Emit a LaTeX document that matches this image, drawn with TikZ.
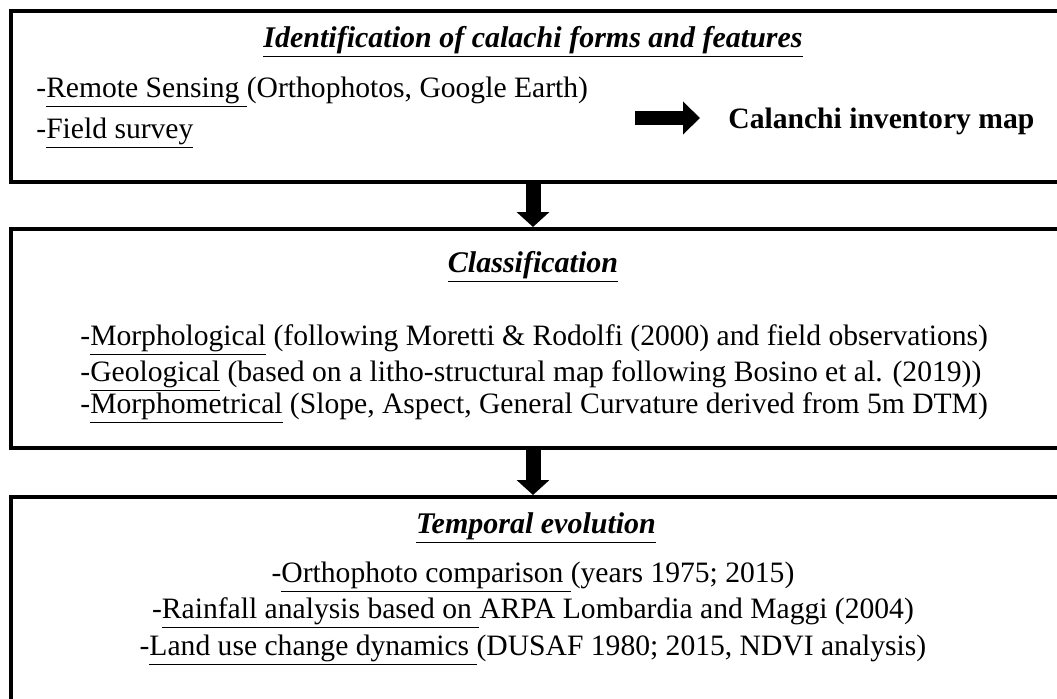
\documentclass[tikz,border=0pt]{standalone}
\usepackage{fontspec}
\setmainfont{Liberation Serif}
\usetikzlibrary{arrows.meta}

\tikzset{
  stagebox/.style={draw, line width=2pt, minimum width=527pt, inner sep=0pt},
  heading/.style={font=\fontsize{15}{18}\selectfont\bfseries\itshape, anchor=base, inner sep=0pt},
  bodytext/.style={font=\fontsize{14.8}{18}\selectfont, anchor=base, inner sep=0pt},
  fatarrow/.style={line width=7.5pt, -{Triangle[width=16pt,length=7.5pt]}},
}

\begin{document}
\begin{tikzpicture}[x=0.5pt, y=-0.5pt]
  \path[use as bounding box, clip] (0,0) rectangle (1057,698);

  % the three stages
  \node[stagebox, minimum height=85.5pt]  (stage1) at (538,96.5) {};
  \node[stagebox, minimum height=109.5pt] (stage2) at (538,338.5) {};
  \node[stagebox, minimum height=107pt]   (stage3) at (538,604) {};

  % stage 1
  \node[heading] (ttl1) at (533,47) {\underline{Identification of calachi forms and features}};
  \node[bodytext, anchor=base west] (rs) at (36,97) {-\underline{Remote Sensing\ }(Orthophotos, Google Earth)};
  \node[bodytext, anchor=base west] (fs) at (36,138) {-\underline{Field survey}};
  \node[bodytext, anchor=base west, font=\fontsize{14.8}{18}\selectfont\bfseries] (inv) at (728,128) {Calanchi inventory map};
  \coordinate (arrstart) at (635,118);
  \draw[line width=7pt, -{Triangle[width=16pt,length=8.5pt]}, shorten >=14pt] (arrstart) -- (arrstart -| inv.west);

  % stage 2
  \node[heading] (ttl2) at (533,272) {\underline{Classification}};
  \node[bodytext, anchor=base west] (morph) at (80,345) {-\underline{Morphological} (following Moretti \& Rodolfi (2000) and field observations)};
  \node[bodytext, anchor=base west] (geol) at (80,381) {-\underline{Geological} (based on a litho-structural map following Bosino et al. (2019))};
  \node[bodytext, anchor=base west] (mmet) at (80,413) {-\underline{Morphometrical} (Slope, Aspect, General Curvature derived from 5m DTM)};

  % stage 3
  \node[heading] (ttl3) at (536,533) {\underline{Temporal evolution}};
  \node[bodytext] (ortho) at (533,582) {-\underline{Orthophoto comparison\ }(years 1975; 2015)};
  \node[bodytext] (rain) at (533,618) {-\underline{Rainfall analysis based on\ }ARPA Lombardia and Maggi (2004)};
  \node[bodytext] (land) at (533,655) {-\underline{Land use change dynamics\ }(DUSAF 1980; 2015, NDVI analysis)};

  % flow between stages
  \draw[fatarrow] (stage1.south -| ttl2.base) -- (stage2.north -| ttl2.base);
  \draw[fatarrow] (stage2.south -| ttl2.base) -- (stage3.north -| ttl2.base);
\end{tikzpicture}
\end{document}
